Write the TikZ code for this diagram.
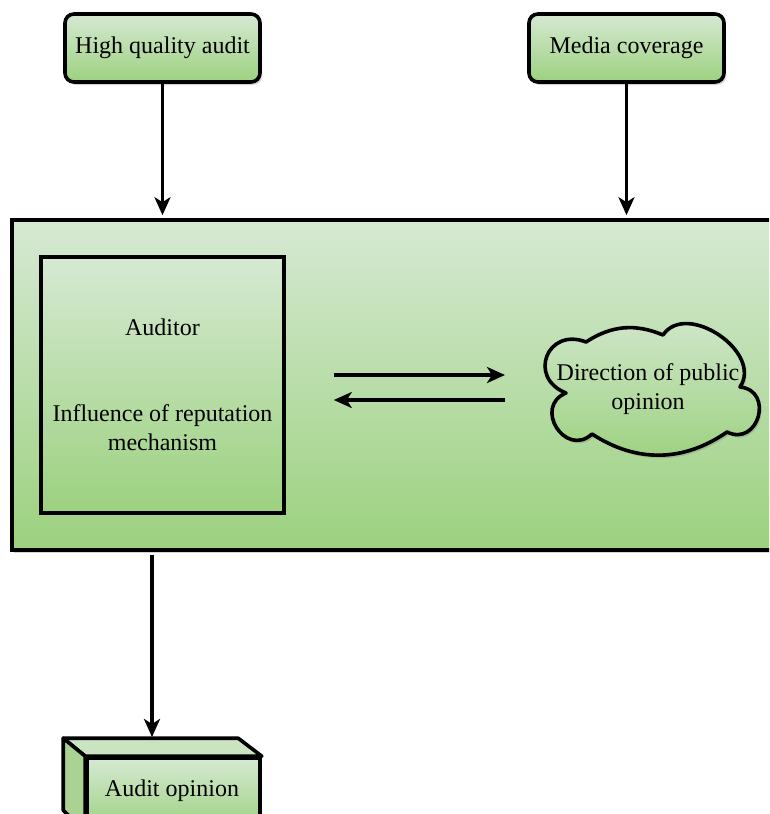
\documentclass[tikz,border=0pt]{standalone}
\usepackage{fontspec}
\setmainfont{Liberation Serif}
\usepackage{xcolor}
\usetikzlibrary{shapes,arrows,positioning,calc,arrows.meta,shadows}
\definecolor{gtop}{HTML}{D6E9D3}
\definecolor{gbot}{HTML}{9CD17F}
\definecolor{gside}{HTML}{A9D293}

\tikzset{
    greenfill/.style={top color=gtop, bottom color=gbot},
    shade3/.style={drop shadow={shadow xshift=2pt, shadow yshift=-3pt, opacity=0.35}},
    inbox/.style={draw, line width=3.6pt, rounded corners=9pt, greenfill, shade3,
        minimum width=195pt, minimum height=68pt},
    link/.style={-{Stealth[length=18pt,width=16pt,inset=5pt]}, line width=3.2pt},
}

\begin{document}
\begin{tikzpicture}[x=1pt,y=-1pt,font=\fontsize{24}{29}\selectfont]
    \useasboundingbox (0,0) rectangle (769,814);
    \clip (0,0) rectangle (769,814);

    \node[inbox] (hqa) at (162.5,48) {High quality audit};
    \node[inbox] (media) at (626.5,48) {Media coverage};

    \node[draw, line width=3.6pt, greenfill, shade3, minimum width=778pt, minimum height=330pt] (big) at (401,385) {};
    \node[draw, line width=3.6pt, greenfill, minimum width=243pt, minimum height=256pt, align=center] (inner) at (162.5,385)
        {Auditor\\[57pt]Influence of reputation\\mechanism};

    \draw[line width=3.6pt, line join=round, greenfill, shade3]
        (566,393) to[bend left=90, looseness=1.95] (586,342) to[bend left=28] (663,335)
        to[bend left=90, looseness=1.15] (740,387) to[bend left=100, looseness=1.9] (727,432)
        to[bend left=34] (592,434) to[bend left=100, looseness=1.9] (566,393) -- cycle;
    \coordinate (pub) at (542,390);
    \node[align=center] (pubtext) at (648,389) {Direction of public\\opinion};

    \draw[link] (hqa.south) -- ([yshift=3pt]hqa.south |- big.north);
    \draw[link] (media.south) -- ([yshift=3pt]media.south |- big.north);

    \draw[link, shorten <=48pt, shorten >=37pt] ([yshift=10pt]inner.east) -- ([yshift=10pt]inner.east -| pub);
    \draw[link, shorten <=37pt, shorten >=48pt] ([yshift=-15pt]inner.east -| pub) -- ([yshift=-15pt]inner.east);

    \node[draw, line width=3.6pt, greenfill, minimum width=173pt, minimum height=72pt] (opinion) at (173.5,794) {};
    \node at (172,791) (optext) {Audit opinion};
    \draw[line width=3.6pt, line join=round, fill=gtop!80!gbot] (opinion.north west) -- ++(-22,-18) -- ++(175,0) -- (opinion.north east) -- cycle;
    \draw[line width=3.6pt, line join=round, fill=gside] (opinion.north west) -- ++(-22,-18) -- ++(0,72) -- (opinion.south west) -- cycle;
    \coordinate (optop) at (152,737);

    \draw[link] ([yshift=-3pt]big.south -| optop) -- (optop);
\end{tikzpicture}
\end{document}
